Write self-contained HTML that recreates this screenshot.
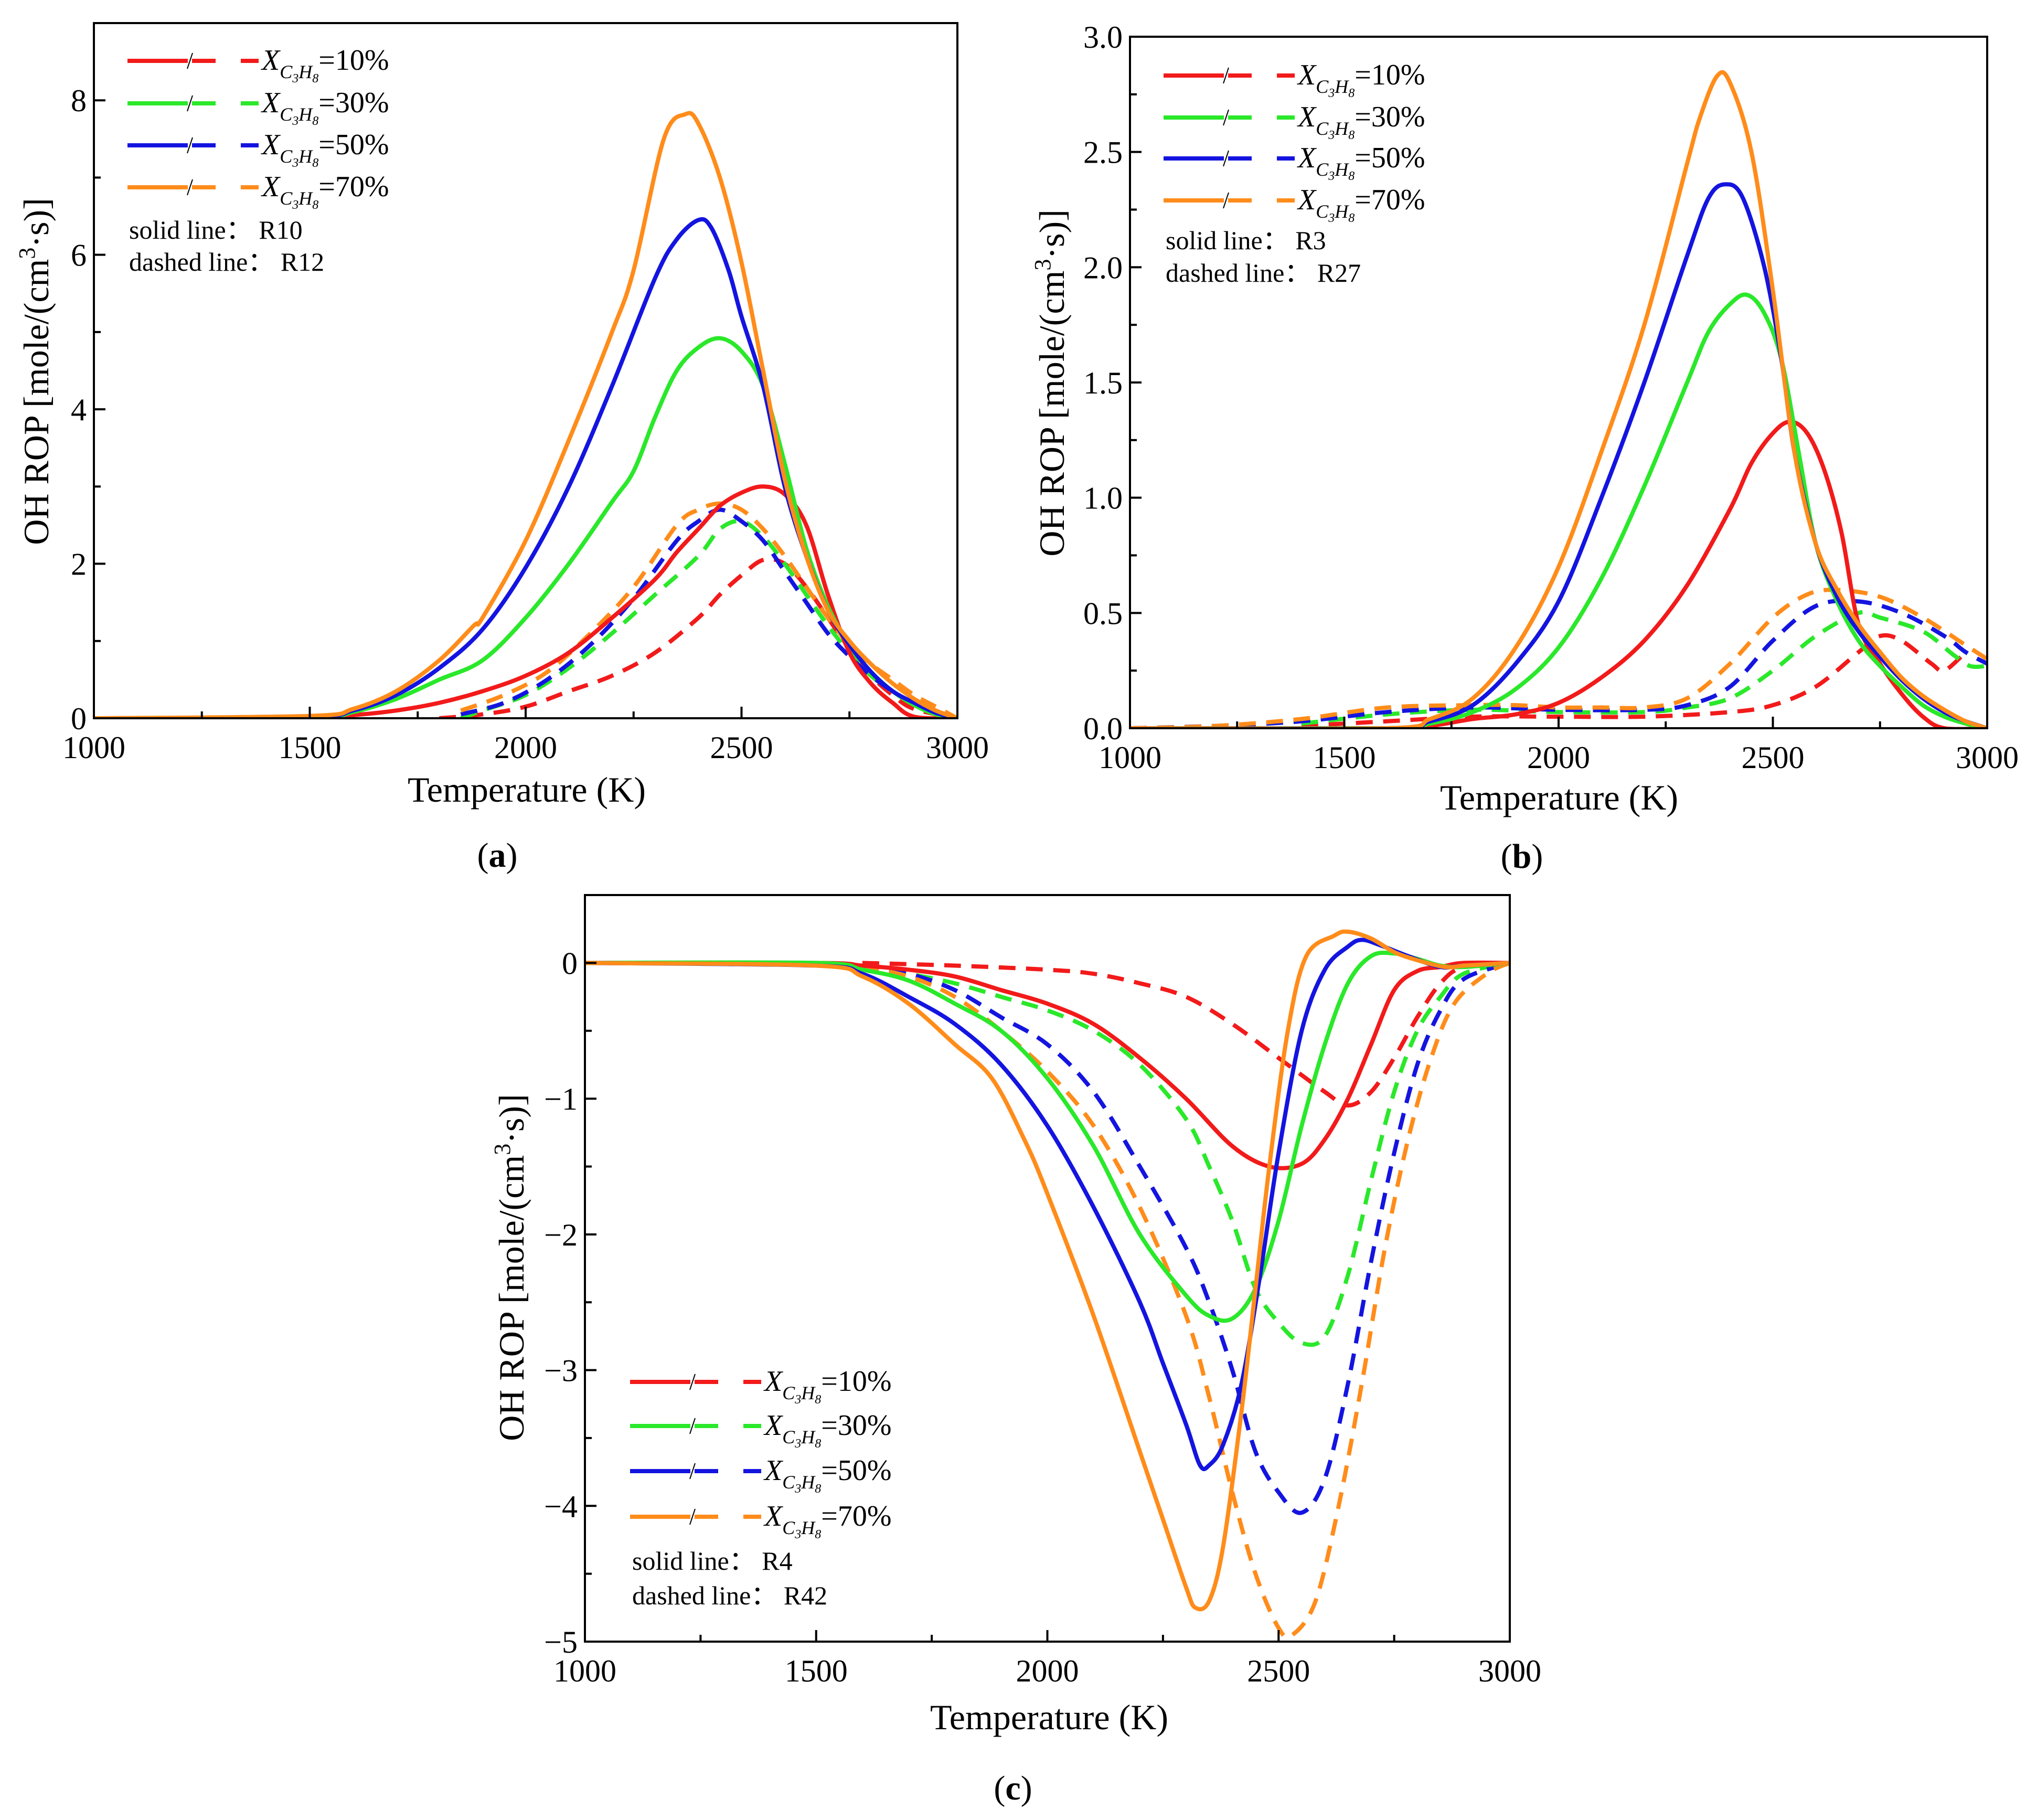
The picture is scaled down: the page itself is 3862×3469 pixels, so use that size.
<!DOCTYPE html>
<html><head><meta charset="utf-8">
<style>
html,body{margin:0;padding:0;background:#fff;overflow:hidden;}
svg{display:block;font-family:"Liberation Serif",serif;}
</style></head>
<body>
<svg id="fig" xmlns="http://www.w3.org/2000/svg" width="3862" height="3469" viewBox="0 0 3862 3469">
<rect width="3862" height="3469" fill="#fff"/>
</svg>
<script>
const NS="http://www.w3.org/2000/svg";
const svg=document.getElementById('fig');
const seriesNames=["10%","30%","50%","70%"];
const colors=["#f21a1a","#2ae82a","#1414e0","#ff8c1a"];
// Panel a data [T, value]
const aSolidRed=[[1000,0],[1500,0.01],[1600,0.04],[1700,0.1],[1800,0.2],[1900,0.35],[2000,0.55],[2100,0.85],[2200,1.3],[2300,1.8],[2350,2.15],[2400,2.45],[2450,2.75],[2500,2.92],[2550,3.0],[2600,2.9],[2650,2.5],[2700,1.6],[2750,0.85],[2800,0.45],[2850,0.2],[2900,0.02],[3000,0]];
const aSolidGreen=[[1000,0],[1500,0.01],[1600,0.08],[1700,0.25],[1800,0.5],[1900,0.75],[2000,1.3],[2100,2.0],[2200,2.8],[2250,3.2],[2300,3.9],[2350,4.5],[2400,4.8],[2450,4.92],[2500,4.75],[2550,4.3],[2600,3.3],[2650,2.2],[2700,1.45],[2750,0.95],[2800,0.6],[2850,0.35],[2900,0.17],[2950,0.05],[3000,0]];
const aSolidBlue=[[1000,0],[1500,0.02],[1600,0.1],[1700,0.3],[1800,0.65],[1900,1.15],[2000,1.95],[2100,3.0],[2200,4.3],[2300,5.7],[2350,6.2],[2400,6.45],[2430,6.35],[2470,5.8],[2500,5.2],[2550,4.3],[2600,3.0],[2650,2.1],[2700,1.4],[2750,0.95],[2800,0.6],[2850,0.35],[2900,0.2],[2950,0.07],[3000,0]];
const aSolidOrange=[[1000,0],[1500,0.03],[1600,0.12],[1700,0.35],[1800,0.75],[1880,1.2],[1900,1.3],[2000,2.3],[2100,3.6],[2200,5.0],[2250,5.8],[2320,7.5],[2370,7.82],[2400,7.7],[2450,7.0],[2500,5.9],[2550,4.5],[2600,3.1],[2650,2.1],[2700,1.4],[2750,1.0],[2800,0.7],[2850,0.45],[2900,0.25],[2950,0.1],[3000,0]];
const aDashRed=[[1800,0],[1900,0.05],[2000,0.15],[2100,0.35],[2200,0.55],[2300,0.85],[2400,1.3],[2450,1.6],[2500,1.85],[2550,2.05],[2600,2.0],[2650,1.7],[2700,1.3],[2750,0.9],[2800,0.55],[2850,0.3],[2900,0.12],[3000,0]];
const aDashGreen=[[1850,0],[1900,0.1],[2000,0.3],[2100,0.65],[2200,1.1],[2300,1.6],[2400,2.1],[2450,2.45],[2500,2.55],[2550,2.35],[2600,2.0],[2650,1.6],[2700,1.2],[2750,0.85],[2800,0.55],[2850,0.35],[2900,0.18],[3000,0]];
const aDashBlue=[[1850,0.05],[1950,0.2],[2050,0.5],[2150,0.95],[2250,1.55],[2350,2.3],[2400,2.55],[2450,2.7],[2500,2.55],[2550,2.3],[2600,1.9],[2650,1.5],[2700,1.1],[2750,0.8],[2800,0.55],[2850,0.35],[2900,0.2],[3000,0]];
const aDashOrange=[[1850,0.1],[1950,0.3],[2050,0.6],[2150,1.1],[2250,1.7],[2350,2.5],[2400,2.7],[2450,2.78],[2500,2.7],[2550,2.45],[2600,2.1],[2650,1.7],[2700,1.3],[2750,0.95],[2800,0.7],[2850,0.5],[2900,0.3],[2950,0.15],[3000,0]];
// Panel b
const bSolidRed=[[1000,0],[1600,0],[1700,0.01],[1800,0.04],[1900,0.06],[2000,0.11],[2100,0.22],[2200,0.38],[2300,0.62],[2400,0.95],[2450,1.15],[2500,1.28],[2540,1.33],[2580,1.28],[2620,1.12],[2660,0.85],[2700,0.45],[2750,0.28],[2800,0.15],[2850,0.05],[2900,0],[3000,0]];
const bSolidGreen=[[1000,0],[1600,0],[1700,0.02],[1800,0.07],[1900,0.17],[2000,0.35],[2100,0.65],[2200,1.05],[2300,1.5],[2350,1.72],[2400,1.84],[2440,1.88],[2480,1.8],[2520,1.6],[2560,1.2],[2600,0.8],[2650,0.55],[2700,0.38],[2750,0.27],[2800,0.18],[2850,0.1],[2900,0.05],[2950,0.02],[3000,0]];
const bSolidBlue=[[1000,0],[1600,0],[1700,0.03],[1800,0.1],[1900,0.28],[2000,0.55],[2100,1.0],[2200,1.5],[2300,2.05],[2350,2.3],[2390,2.36],[2430,2.3],[2480,2.0],[2520,1.6],[2550,1.2],[2600,0.8],[2650,0.57],[2700,0.42],[2750,0.31],[2800,0.21],[2850,0.13],[2900,0.07],[2950,0.03],[3000,0]];
const bSolidOrange=[[1000,0],[1600,0],[1700,0.04],[1800,0.13],[1900,0.35],[2000,0.7],[2100,1.2],[2200,1.75],[2300,2.45],[2330,2.65],[2370,2.83],[2400,2.8],[2450,2.5],[2500,1.9],[2550,1.2],[2600,0.8],[2650,0.6],[2700,0.45],[2750,0.33],[2800,0.22],[2850,0.14],[2900,0.08],[2950,0.03],[3000,0]];
const bDashRed=[[1400,0.01],[1600,0.03],[1800,0.05],[2000,0.05],[2200,0.05],[2400,0.07],[2500,0.1],[2600,0.18],[2700,0.33],[2750,0.4],[2800,0.38],[2870,0.28],[2900,0.25],[2950,0.33]];
const bDashGreen=[[1400,0.02],[1600,0.06],[1800,0.08],[2000,0.07],[2200,0.07],[2300,0.09],[2400,0.13],[2500,0.25],[2600,0.4],[2700,0.5],[2750,0.48],[2850,0.42],[2920,0.32],[2960,0.27],[3000,0.27]];
const bDashBlue=[[1000,0],[1200,0.01],[1400,0.03],[1600,0.07],[1800,0.09],[2000,0.08],[2200,0.08],[2300,0.1],[2400,0.18],[2500,0.38],[2600,0.53],[2700,0.55],[2800,0.5],[2900,0.4],[2950,0.33],[3000,0.28]];
const bDashOrange=[[1000,0],[1200,0.01],[1400,0.04],[1600,0.09],[1800,0.1],[1900,0.1],[2000,0.09],[2100,0.09],[2200,0.09],[2300,0.13],[2400,0.28],[2500,0.48],[2580,0.58],[2650,0.6],[2750,0.57],[2850,0.48],[2950,0.36],[3000,0.3]];
// Panel c
const cSolidRed=[[1000,0],[1500,0],[1600,-0.02],[1700,-0.05],[1800,-0.1],[1900,-0.2],[2000,-0.3],[2100,-0.45],[2200,-0.7],[2300,-1.0],[2400,-1.35],[2480,-1.5],[2550,-1.48],[2600,-1.3],[2650,-1.0],[2700,-0.6],[2750,-0.2],[2800,-0.06],[2850,-0.03],[2900,0],[3000,0]];
const cSolidGreen=[[1000,0],[1500,0],[1600,-0.05],[1700,-0.13],[1800,-0.3],[1900,-0.5],[2000,-0.85],[2100,-1.35],[2200,-2.0],[2300,-2.45],[2350,-2.6],[2400,-2.62],[2450,-2.4],[2500,-1.9],[2550,-1.2],[2600,-0.6],[2650,-0.15],[2700,0.05],[2750,0.07],[2800,0.03],[2850,-0.02],[2900,-0.03],[3000,0]];
const cSolidBlue=[[1000,0],[1500,-0.02],[1600,-0.08],[1700,-0.25],[1800,-0.45],[1900,-0.75],[2000,-1.2],[2100,-1.8],[2200,-2.5],[2250,-2.95],[2300,-3.4],[2330,-3.7],[2350,-3.7],[2380,-3.55],[2420,-3.1],[2460,-2.3],[2500,-1.4],[2550,-0.5],[2600,-0.05],[2650,0.12],[2680,0.17],[2720,0.13],[2780,0.05],[2850,-0.03],[2900,-0.02],[3000,0]];
const cSolidOrange=[[1000,0],[1500,-0.02],[1600,-0.1],[1700,-0.3],[1800,-0.6],[1880,-0.85],[1950,-1.3],[2000,-1.7],[2100,-2.6],[2200,-3.6],[2250,-4.1],[2300,-4.6],[2320,-4.75],[2350,-4.7],[2380,-4.3],[2420,-3.3],[2450,-2.4],[2480,-1.5],[2520,-0.5],[2560,0.05],[2620,0.2],[2650,0.23],[2700,0.18],[2750,0.08],[2800,0.02],[2860,-0.03],[2900,-0.02],[2950,-0.01],[3000,0]];
const cDashRed=[[1600,0],[1800,-0.02],[2000,-0.05],[2100,-0.08],[2200,-0.15],[2300,-0.25],[2400,-0.45],[2500,-0.7],[2600,-0.95],[2650,-1.05],[2700,-0.95],[2750,-0.7],[2800,-0.4],[2850,-0.15],[2900,-0.03],[3000,0]];
const cDashGreen=[[1600,-0.02],[1700,-0.08],[1800,-0.15],[1900,-0.25],[2000,-0.35],[2100,-0.5],[2200,-0.75],[2300,-1.15],[2350,-1.5],[2400,-1.9],[2450,-2.4],[2500,-2.65],[2550,-2.8],[2600,-2.75],[2650,-2.3],[2700,-1.6],[2750,-0.95],[2800,-0.5],[2850,-0.25],[2900,-0.08],[3000,0]];
const cDashBlue=[[1600,-0.02],[1700,-0.08],[1800,-0.2],[1900,-0.4],[2000,-0.6],[2100,-0.95],[2200,-1.5],[2300,-2.1],[2350,-2.5],[2400,-3.0],[2450,-3.6],[2500,-3.9],[2550,-4.05],[2600,-3.8],[2650,-3.1],[2700,-2.2],[2750,-1.4],[2800,-0.75],[2850,-0.35],[2900,-0.12],[3000,0]];
const cDashOrange=[[1600,-0.03],[1700,-0.1],[1800,-0.25],[1900,-0.5],[2000,-0.8],[2100,-1.2],[2200,-1.8],[2300,-2.6],[2350,-3.2],[2400,-3.9],[2450,-4.5],[2500,-4.9],[2530,-4.95],[2580,-4.7],[2630,-4.0],[2680,-3.1],[2730,-2.1],[2780,-1.3],[2830,-0.7],[2880,-0.3],[2950,-0.08],[3000,0]];
const xTicks=[1000,1500,2000,2500,3000];
const aYTicks=[0,2,4,6,8];
const bYTicks=[0,0.5,1,1.5,2,2.5,3];
const bYLabels=["0.0","0.5","1.0","1.5","2.0","2.5","3.0"];
const cYTicks=[-5,-4,-3,-2,-1,0];
const cYLabels=["\u22125","\u22124","\u22123","\u22122","\u22121","0"];

function el(tag,attrs,parent){const e=document.createElementNS(NS,tag);for(const k in attrs)e.setAttribute(k,attrs[k]);(parent||svg).appendChild(e);return e;}
function smooth(pts){
  let d='M'+pts[0][0].toFixed(1)+','+pts[0][1].toFixed(1);
  for(let i=0;i<pts.length-1;i++){
    const p0=pts[Math.max(0,i-1)],p1=pts[i],p2=pts[i+1],p3=pts[Math.min(pts.length-1,i+2)];
    const c1x=p1[0]+(p2[0]-p0[0])/6,c1y=p1[1]+(p2[1]-p0[1])/6;
    const c2x=p2[0]-(p3[0]-p1[0])/6,c2y=p2[1]-(p3[1]-p1[1])/6;
    d+='C'+c1x.toFixed(1)+','+c1y.toFixed(1)+' '+c2x.toFixed(1)+','+c2y.toFixed(1)+' '+p2[0].toFixed(1)+','+p2[1].toFixed(1);
  }
  return d;
}

function panel(p){
  const g=el('g',{});
  
  
  const sx=T=>p.x0+(T-1000)/2000*(p.x1-p.x0);
  const sy=v=>p.y1-(v-p.ymin)/(p.ymax-p.ymin)*(p.y1-p.y0);
  const clip=el('clipPath',{id:'clip-'+p.name},g);
  el('rect',{x:p.x0,y:p.y0,width:p.x1-p.x0,height:p.y1-p.y0},clip);
  const lines=el('g',{'clip-path':'url(#clip-'+p.name+')'},g);
  p.dashed.forEach((s,i)=>{
    const path=el('path',{d:smooth(s.map(d=>[sx(d[0]),sy(d[1])])),fill:'none',stroke:colors[i],'stroke-width':8,'stroke-dasharray':'32 20','stroke-linejoin':'round'},lines);
    
    
  });
  p.solid.forEach((s,i)=>{
    const path=el('path',{d:smooth(s.map(d=>[sx(d[0]),sy(d[1])])),fill:'none',stroke:colors[i],'stroke-width':8,'stroke-linejoin':'round'},lines);
    
    
  });
  const frame=el('rect',{x:p.x0,y:p.y0,width:p.x1-p.x0,height:p.y1-p.y0,fill:'none',stroke:'#000','stroke-width':4},g);
  
  
  for(let T=1000;T<=3000;T+=250){
    const major=(T%500===0);
    el('line',{x1:sx(T),x2:sx(T),y1:p.y1,y2:p.y1-(major?22:13),stroke:'#000','stroke-width':4},g);
  }
  xTicks.forEach(T=>{
    const t=el('text',{x:sx(T),y:p.y1+76,'font-size':60,'text-anchor':'middle'},g);
    t.textContent=T;
    
    
  });
  const step=p.yTicks[1]-p.yTicks[0];
  for(let v=p.yTicks[0];v<=p.ymax+1e-9;v+=step/2){
    if(v<p.ymin-1e-9)continue;
    const major=Math.abs(((v-p.yTicks[0])/step)-Math.round((v-p.yTicks[0])/step))<1e-6;
    el('line',{x1:p.x0,x2:p.x0+(major?22:13),y1:sy(v),y2:sy(v),stroke:'#000','stroke-width':4},g);
  }
  p.yTicks.forEach((v,i)=>{
    const t=el('text',{x:p.x0-14,y:sy(v)+21,'font-size':60,'text-anchor':'end'},g);
    t.textContent=p.yLabels[i];
    
    
  });
  const xt=el('text',{x:p.xtx,y:p.xty,'font-size':68,'text-anchor':'middle'},g);
  xt.textContent='Temperature (K)';
  
  
  const yt=el('text',{x:0,y:0,'font-size':68,'text-anchor':'middle',transform:`translate(${p.ytx},${p.yty}) rotate(-90)`},g);
  yt.innerHTML='OH ROP [mole/(cm<tspan dy="-26" font-size="44">3</tspan><tspan dy="26">·s)]</tspan>';
  
  
  p.legY.forEach((y,i)=>{
    const lg=el('g',{},g);
    
    
    const lx=p.legX;
    el('line',{x1:lx,x2:lx+115,y1:y,y2:y,stroke:colors[i],'stroke-width':8},lg);
    el('line',{x1:lx+123,x2:lx+168,y1:y,y2:y,stroke:colors[i],'stroke-width':8},lg);
    el('line',{x1:lx+114,x2:lx+124,y1:y+15,y2:y-15,stroke:'#000','stroke-width':2},lg);
    el('line',{x1:lx+216,x2:lx+250,y1:y,y2:y,stroke:colors[i],'stroke-width':8},lg);
    const t=el('text',{x:lx+256,y:y+17,'font-size':56},lg);
    t.innerHTML='<tspan font-style="italic">X</tspan><tspan font-style="italic" font-size="36" dy="16">C</tspan><tspan font-style="italic" font-size="24" dy="8">3</tspan><tspan font-style="italic" font-size="36" dy="-8">H</tspan><tspan font-style="italic" font-size="24" dy="8">8</tspan><tspan dy="-24">='+seriesNames[i]+'</tspan>';
  });
  const s1=el('text',{x:p.noteX,y:p.noteY[0],'font-size':50},g);
  s1.textContent='solid line\uFF1A R'+p.notes[0];
  
  
  const s2=el('text',{x:p.noteX,y:p.noteY[1],'font-size':50},g);
  s2.textContent='dashed line\uFF1A R'+p.notes[1];
  
  
  const pl=el('text',{x:p.lblX,y:p.lblY,'font-size':66,'text-anchor':'middle'},g);
  pl.innerHTML='(<tspan font-weight="bold">'+p.letter+'</tspan>)';
  
  
}

panel({name:'chart-a',letter:'a',x0:179,x1:1825,y0:44,y1:1369,ymin:0,ymax:9,yTicks:aYTicks,yLabels:aYTicks.map(String),
  solid:[aSolidRed,aSolidGreen,aSolidBlue,aSolidOrange],dashed:[aDashRed,aDashGreen,aDashBlue,aDashOrange],
  xtx:1004,xty:1528,ytx:92,yty:708,legX:243,legY:[116,197,277,357],noteX:246,noteY:[455,516],notes:['10','12'],lblX:948,lblY:1652});
panel({name:'chart-b',letter:'b',x0:2154,x1:3788,y0:70,y1:1388,ymin:0,ymax:3,yTicks:bYTicks,yLabels:bYLabels,
  solid:[bSolidRed,bSolidGreen,bSolidBlue,bSolidOrange],dashed:[bDashRed,bDashGreen,bDashBlue,bDashOrange],
  xtx:2972,xty:1543,ytx:2028,yty:730,legX:2218,legY:[144,224,302,382],noteX:2222,noteY:[475,537],notes:['3','27'],lblX:2901,lblY:1654});
panel({name:'chart-c',letter:'c',x0:1115,x1:2878,y0:1706,y1:3129,ymin:-5,ymax:0.5,yTicks:cYTicks,yLabels:cYLabels,
  solid:[cSolidRed,cSolidGreen,cSolidBlue,cSolidOrange],dashed:[cDashRed,cDashGreen,cDashBlue,cDashOrange],
  xtx:2000,xty:3296,ytx:998,yty:2416,legX:1201,legY:[2634,2718,2804,2891],noteX:1205,noteY:[2992,3058],notes:['4','42'],lblX:1931,lblY:3430});
</script>
</body></html>
